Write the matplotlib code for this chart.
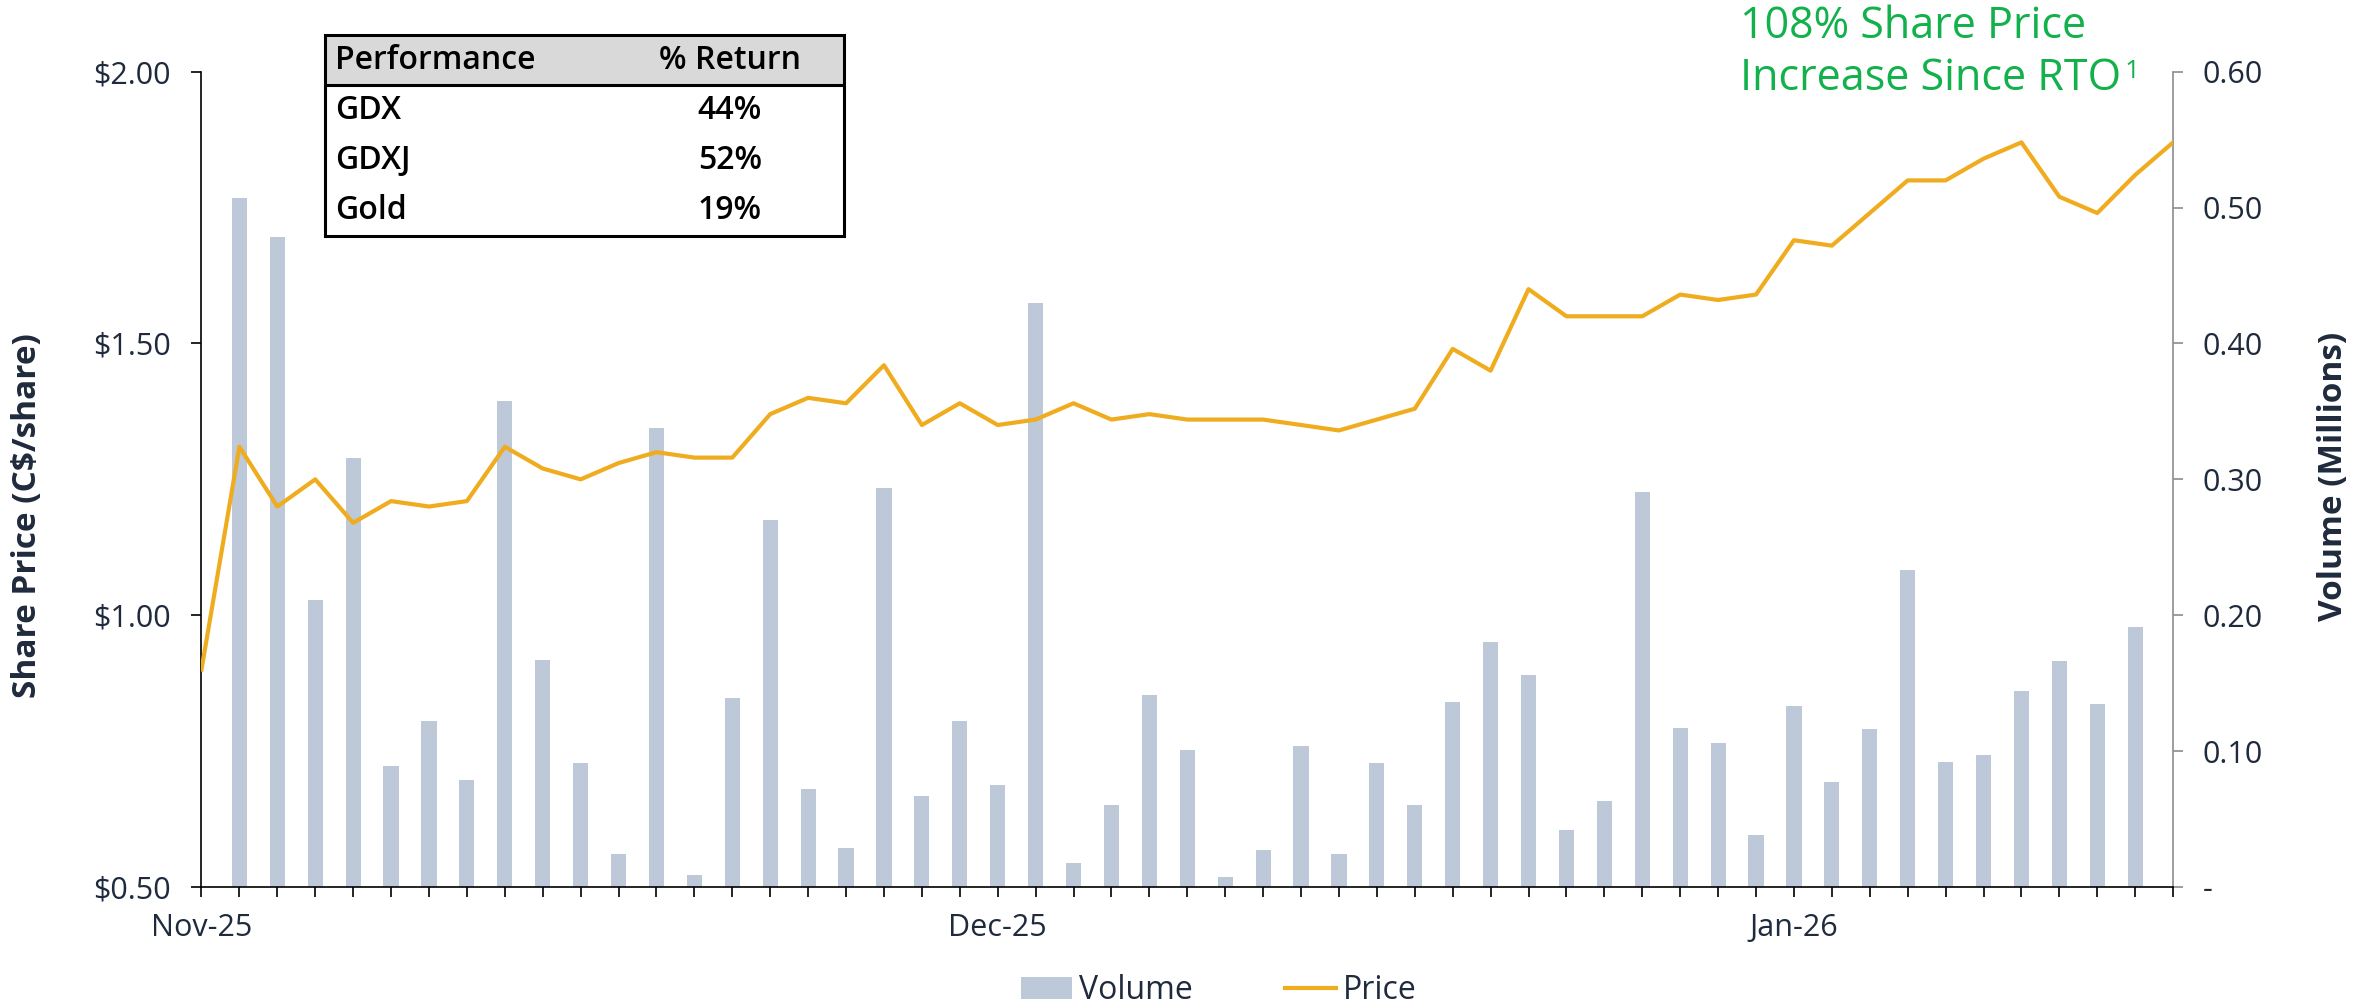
import numpy as np
import matplotlib.pyplot as plt
from matplotlib.patches import Rectangle, Patch
from matplotlib.lines import Line2D

plt.rcParams['font.family'] = ['Open Sans', 'DejaVu Sans']

# Daily closing price (C$/share), one value per trading day
prices = [0.90, 1.31, 1.20, 1.25, 1.17, 1.21, 1.20, 1.21, 1.31, 1.27, 1.25, 1.28, 1.30, 1.29,
          1.29, 1.37, 1.40, 1.39, 1.46, 1.35, 1.39, 1.35, 1.36, 1.39, 1.36, 1.37, 1.36, 1.36,
          1.36, 1.35, 1.34, 1.36, 1.38, 1.49, 1.45, 1.60, 1.55, 1.55, 1.55, 1.59, 1.58, 1.59,
          1.69, 1.68, 1.74, 1.80, 1.80, 1.84, 1.87, 1.77, 1.74, 1.81, 1.87]

# Daily volume (millions), trading days 1..51
volumes = [0.507, 0.478, 0.211, 0.316, 0.089, 0.122, 0.079, 0.358, 0.167, 0.091, 0.024,
           0.338, 0.009, 0.139, 0.270, 0.072, 0.029, 0.294, 0.067, 0.122, 0.075, 0.430,
           0.018, 0.060, 0.141, 0.101, 0.007, 0.027, 0.104, 0.024, 0.091, 0.060, 0.136,
           0.180, 0.156, 0.042, 0.063, 0.291, 0.117, 0.106, 0.038, 0.133, 0.077, 0.116,
           0.233, 0.092, 0.097, 0.144, 0.166, 0.135, 0.191]

month_labels = ['Nov-25', 'Dec-25', 'Jan-26']
month_days = [0, 21, 42]

perf_names = ['GDX', 'GDXJ', 'Gold']
perf_returns = ['44%', '52%', '19%']

price_ticks = [0.50, 1.00, 1.50, 2.00]
volume_ticks = [0.0, 0.1, 0.2, 0.3, 0.4, 0.5, 0.6]

TEXT = '#1F2B3D'
BAR = '#BDC8D8'
GOLD = '#EFAC1F'
GREEN = '#12B14B'

days = np.arange(len(prices))
vol_days = np.arange(1, len(volumes) + 1)

fig = plt.figure(figsize=(23.76, 10.06), dpi=100)
ax1 = fig.add_axes([0.0848, 0.1183, 0.8298, 0.8104])
ax2 = ax1.twinx()

# volume bars on the right axis, price line drawn above them
ax2.bar(vol_days, volumes, width=0.4, color=BAR, zorder=1)
ax1.plot(days, prices, color=GOLD, lw=3.0, zorder=3)
ax1.set_zorder(ax2.get_zorder() + 1)
ax1.patch.set_visible(False)

ax1.set_xlim(0, len(prices) - 1)
ax1.set_ylim(0.5, 2.0)
ax2.set_ylim(0, 0.6)

ax1.set_yticks(price_ticks)
ax1.set_yticklabels([f'${v:.2f}' for v in price_ticks])
ax2.set_yticks(volume_ticks)
ax2.set_yticklabels(['-' if v == 0 else f'{v:.2f}' for v in volume_ticks])

xlabels = [''] * len(prices)
for d, lab in zip(month_days, month_labels):
    xlabels[d] = lab
ax1.set_xticks(days)
ax1.set_xticklabels(xlabels)

for sp in ['top', 'right']:
    ax1.spines[sp].set_visible(False)
for sp in ['top', 'left', 'bottom']:
    ax2.spines[sp].set_visible(False)
ax1.spines['left'].set_color('black')
ax1.spines['bottom'].set_color('black')
ax1.spines['left'].set_linewidth(1.2)
ax1.spines['bottom'].set_linewidth(1.2)
ax2.spines['right'].set_color('#8C8C8C')
ax2.spines['right'].set_linewidth(1.2)

ax1.tick_params(axis='y', length=7, width=1.2, color='black', pad=15,
                labelsize=22, labelcolor=TEXT)
ax1.tick_params(axis='x', length=7, width=1.2, color='black', pad=12,
                labelsize=22, labelcolor=TEXT)
ax2.tick_params(axis='y', length=7, width=1.2, color='#8C8C8C', pad=14,
                labelsize=22, labelcolor=TEXT)

fig.text(0.0114, 0.488, 'Share Price (C$/share)', rotation=90, ha='center', va='center',
         fontsize=24, fontweight='bold', color=TEXT)
fig.text(0.982, 0.526, 'Volume (Millions)', rotation=90, ha='center', va='center',
         fontsize=24, fontweight='bold', color=TEXT)

# green callout with a small raised footnote mark
fig.text(0.7323, 1 - 38 / 1006, '108% Share Price', ha='left', va='baseline',
         fontsize=31, color=GREEN)
line2 = fig.text(0.7323, 1 - 90 / 1006, 'Increase Since RTO', ha='left', va='baseline',
                 fontsize=31, color=GREEN)
fig.canvas.draw()
bb = line2.get_window_extent(fig.canvas.get_renderer())
fig.text(bb.x1 / fig.bbox.width + 0.0015, 1 - 78 / 1006, '1', ha='left', va='baseline',
         fontsize=19, color=GREEN)

# performance table
tax = fig.add_axes([325 / 2376, 1 - 236 / 1006, (844 - 325) / 2376, (236 - 35) / 1006])
tax.set_xlim(0, 1)
tax.set_ylim(0, 4)
tax.axis('off')
tax.add_patch(Rectangle((0, 3), 1, 1, facecolor='#D9D9D9', edgecolor='none'))
tax.plot([0, 1], [3, 3], color='black', lw=2.2)
tax.add_patch(Rectangle((0, 0), 1, 4, facecolor='none', edgecolor='black', lw=2.2,
                        clip_on=False))
tax.text(0.02, 3.5, 'Performance', ha='left', va='center', fontsize=23,
         fontweight='semibold', color='black')
tax.text(0.78, 3.5, '% Return', ha='center', va='center', fontsize=23,
         fontweight='semibold', color='black')
for k, (name, ret) in enumerate(zip(perf_names, perf_returns)):
    yy = 2.5 - k
    tax.text(0.02, yy, name, ha='left', va='center', fontsize=23,
             fontweight='semibold', color='black')
    tax.text(0.78, yy, ret, ha='center', va='center', fontsize=23,
             fontweight='semibold', color='black')

handles = [Patch(facecolor=BAR, edgecolor='none'), Line2D([0], [0], color=GOLD, lw=3.0)]
leg = fig.legend(handles, ['Volume', 'Price'], loc='center', bbox_to_anchor=(0.513, 0.015),
                 ncol=2, frameon=False, fontsize=23, handlelength=1.6,
                 handletextpad=0.2, columnspacing=2.9)
for t in leg.get_texts():
    t.set_color(TEXT)

fig.savefig('out.png', dpi=100)
